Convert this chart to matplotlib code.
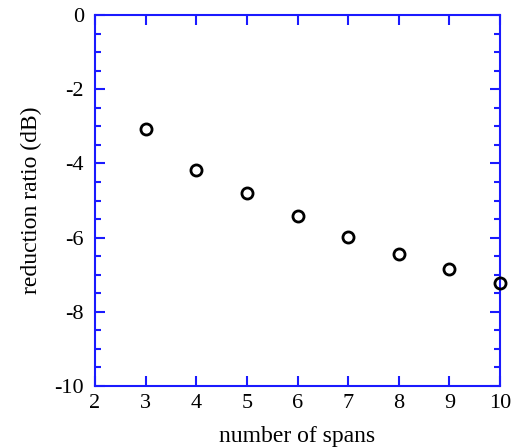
import matplotlib
matplotlib.use("Agg")
import matplotlib.pyplot as plt
from matplotlib.ticker import MultipleLocator

plt.rcParams["font.family"] = ["Liberation Serif", "DejaVu Serif"]
plt.rcParams["axes.unicode_minus"] = False

# data
spans = [3, 4, 5, 6, 7, 8, 9, 10]
reduction_db = [-3.07, -4.18, -4.80, -5.42, -5.98, -6.44, -6.85, -7.22]

blue = "#1a1aff"

fig = plt.figure(figsize=(5.16, 4.48), dpi=100)
ax = fig.add_axes([95 / 516, 1 - 386 / 448, 405 / 516, 371 / 448])

ax.plot(spans, reduction_db, "o", mfc="none", mec="black", mew=2, ms=8, clip_on=False, zorder=5)

ax.set_xlim(2, 10)
ax.set_ylim(-10, 0)
ax.xaxis.set_major_locator(MultipleLocator(1))
ax.yaxis.set_major_locator(MultipleLocator(2))
ax.yaxis.set_minor_locator(MultipleLocator(0.5))

for s in ax.spines.values():
    s.set_color(blue)
    s.set_linewidth(1.5)
ax.tick_params(which="both", direction="in", top=True, right=True, color=blue, width=1.5)
ax.tick_params(which="major", length=7, labelsize=16)
ax.tick_params(axis="y", which="major", pad=8)
ax.tick_params(axis="x", which="major", pad=6)
ax.tick_params(which="minor", length=4)

ax.set_xlabel("number of spans", fontsize=17, labelpad=9)
ax.set_ylabel("reduction ratio (dB)", fontsize=17, labelpad=9)

fig.savefig("out.png", dpi=100)
